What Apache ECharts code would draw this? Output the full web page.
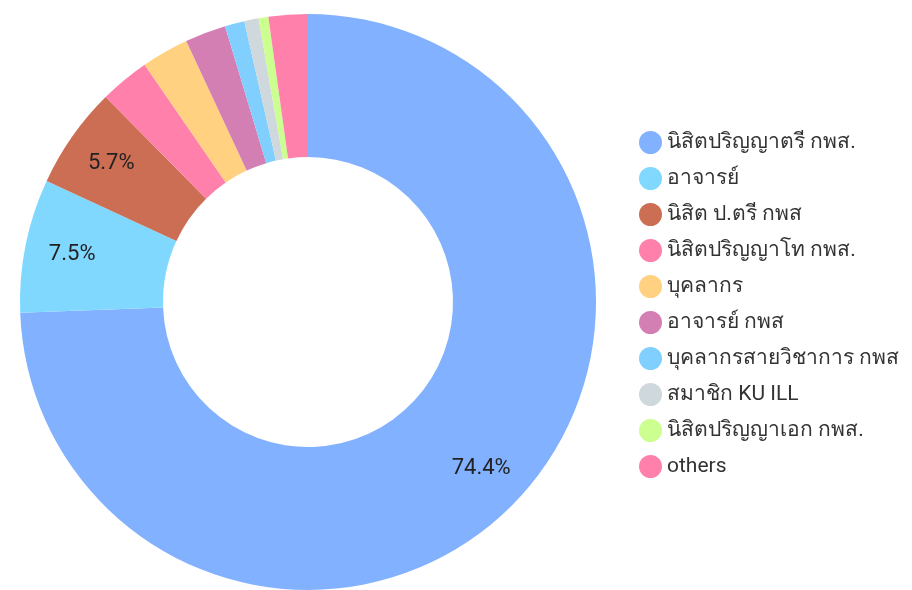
<!DOCTYPE html>
<html>
<head>
<meta charset="utf-8">
<script src="https://cdn.jsdelivr.net/npm/echarts@6/dist/echarts.min.js"></script>
<style>
  html, body { margin: 0; padding: 0; background: #fff; }
  #chart-donut { width: 912px; height: 590px; }
</style>
</head>
<body>
<div id="chart-donut"></div>
<script>
// slices, clockwise from 12 o'clock
const categories = [
  "นิสิตปริญญาตรี กพส.",
  "อาจารย์",
  "นิสิต ป.ตรี กพส",
  "นิสิตปริญญาโท กพส.",
  "บุคลากร",
  "อาจารย์ กพส",
  "บุคลากรสายวิชาการ กพส",
  "สมาชิก KU ILL",
  "นิสิตปริญญาเอก กพส.",
  "others"
];
const shares = [74.4, 7.5, 5.7, 2.8, 2.65, 2.3, 1.1, 0.8, 0.55, 2.2];
const colors = [
  "#82b1ff", "#80d8ff", "#cb6e53", "#ff80ab", "#ffd180",
  "#d37fb4", "#80cfff", "#cfd8dc", "#ccff90", "#ff80ab"
];

const pieData = categories.map(function (name, i) {
  return { name: name, value: shares[i] };
});

const chart = echarts.init(document.getElementById("chart-donut"));
chart.setOption({
  animation: false,
  color: colors,
  legend: {
    orient: "vertical",
    left: 634,
    top: 126,
    icon: "circle",
    itemWidth: 23,
    itemHeight: 23,
    itemGap: 13,
    data: categories,
    textStyle: {
      fontFamily: "Roboto, 'Noto Sans', sans-serif",
      fontSize: 21,
      color: "#333"
    }
  },
  series: [
    {
      type: "pie",
      center: [308, 302],
      radius: [145, 288],
      startAngle: 90,
      clockwise: true,
      label: { show: false },
      labelLine: { show: false },
      itemStyle: { borderWidth: 0 },
      emphasis: { disabled: true },
      data: pieData
    },
    {
      // transparent ring only used to place the percent labels a bit further out
      type: "pie",
      center: [308, 302],
      radius: [145, 330],
      startAngle: 90,
      clockwise: true,
      silent: true,
      avoidLabelOverlap: false,
      itemStyle: { color: "rgba(0,0,0,0)", borderWidth: 0 },
      label: {
        position: "inside",
        color: "#222",
        fontFamily: "Roboto, sans-serif",
        fontSize: 22,
        formatter: function (p) {
          return p.percent >= 4 ? p.percent.toFixed(1) + "%" : "";
        }
      },
      labelLine: { show: false },
      emphasis: { disabled: true },
      data: pieData
    }
  ]
});
</script>
</body>
</html>
